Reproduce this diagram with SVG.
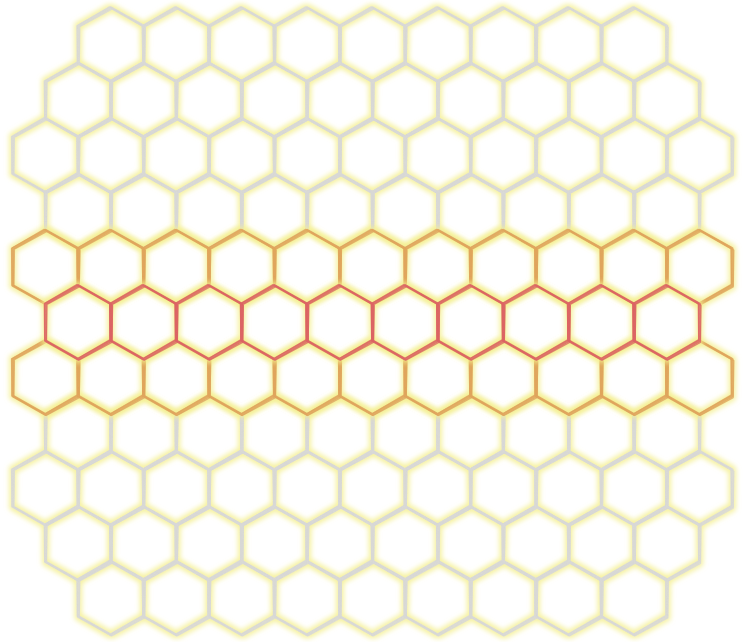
<svg xmlns="http://www.w3.org/2000/svg" xmlns:xlink="http://www.w3.org/1999/xlink" width="743" height="642" viewBox="0 0 743 642">
<style>
.s1{fill:none;stroke-width:2.8;stroke-linejoin:round;stroke-linecap:round;opacity:0.9}
.s2{fill:none;stroke-width:1.4;stroke-linejoin:round;stroke-linecap:round;opacity:0.8}
.gray{stroke:#d8d8d6}
.orange{stroke:#e0a55c}
.red{stroke:#dc6464}
</style>
<defs>
<polygon id="hx" points="0,-36.9 32.7,-18.45 32.7,18.45 0,36.9 -32.7,18.45 -32.7,-18.45"/>
<g id="hs">
<use xlink:href="#hx" class="s1"/>
<use xlink:href="#hx" class="s2" transform="translate(1.3,1.0) rotate(0.9)"/>
<use xlink:href="#hx" class="s2" transform="translate(-1.0,-0.7) rotate(-0.7)"/>
</g>
<filter id="glow" filterUnits="userSpaceOnUse" x="0" y="0" width="743" height="642">
<feMorphology in="SourceAlpha" operator="dilate" radius="2.2" result="d"/>
<feGaussianBlur in="d" stdDeviation="2.8" result="b"/>
<feFlood flood-color="#f4ef8e" flood-opacity="0.85"/>
<feComposite in2="b" operator="in" result="g"/>
<feMerge><feMergeNode in="g"/><feMergeNode in="SourceGraphic"/></feMerge>
</filter>
</defs>
<rect width="743" height="642" fill="#ffffff"/>
<g id="grid-gray" class="gray" filter="url(#glow)">
<g id="row0">
<use xlink:href="#hs" x="110.9" y="44.5"/><use xlink:href="#hs" x="176.3" y="44.5"/><use xlink:href="#hs" x="241.7" y="44.5"/><use xlink:href="#hs" x="307.1" y="44.5"/><use xlink:href="#hs" x="372.5" y="44.5"/><use xlink:href="#hs" x="437.9" y="44.5"/><use xlink:href="#hs" x="503.3" y="44.5"/><use xlink:href="#hs" x="568.7" y="44.5"/><use xlink:href="#hs" x="634.1" y="44.5"/>
</g>
<g id="row1">
<use xlink:href="#hs" x="78.2" y="99.9"/><use xlink:href="#hs" x="143.6" y="99.9"/><use xlink:href="#hs" x="209" y="99.9"/><use xlink:href="#hs" x="274.4" y="99.9"/><use xlink:href="#hs" x="339.8" y="99.9"/><use xlink:href="#hs" x="405.2" y="99.9"/><use xlink:href="#hs" x="470.6" y="99.9"/><use xlink:href="#hs" x="536" y="99.9"/><use xlink:href="#hs" x="601.4" y="99.9"/><use xlink:href="#hs" x="666.8" y="99.9"/>
</g>
<g id="row2">
<use xlink:href="#hs" x="45.5" y="155.3"/><use xlink:href="#hs" x="110.9" y="155.3"/><use xlink:href="#hs" x="176.3" y="155.3"/><use xlink:href="#hs" x="241.7" y="155.3"/><use xlink:href="#hs" x="307.1" y="155.3"/><use xlink:href="#hs" x="372.5" y="155.3"/><use xlink:href="#hs" x="437.9" y="155.3"/><use xlink:href="#hs" x="503.3" y="155.3"/><use xlink:href="#hs" x="568.7" y="155.3"/><use xlink:href="#hs" x="634.1" y="155.3"/><use xlink:href="#hs" x="699.5" y="155.3"/>
</g>
<g id="row3">
<use xlink:href="#hs" x="78.2" y="211.2"/><use xlink:href="#hs" x="143.6" y="211.2"/><use xlink:href="#hs" x="209" y="211.2"/><use xlink:href="#hs" x="274.4" y="211.2"/><use xlink:href="#hs" x="339.8" y="211.2"/><use xlink:href="#hs" x="405.2" y="211.2"/><use xlink:href="#hs" x="470.6" y="211.2"/><use xlink:href="#hs" x="536" y="211.2"/><use xlink:href="#hs" x="601.4" y="211.2"/><use xlink:href="#hs" x="666.8" y="211.2"/>
</g>
<g id="row7">
<use xlink:href="#hs" x="78.2" y="433"/><use xlink:href="#hs" x="143.6" y="433"/><use xlink:href="#hs" x="209" y="433"/><use xlink:href="#hs" x="274.4" y="433"/><use xlink:href="#hs" x="339.8" y="433"/><use xlink:href="#hs" x="405.2" y="433"/><use xlink:href="#hs" x="470.6" y="433"/><use xlink:href="#hs" x="536" y="433"/><use xlink:href="#hs" x="601.4" y="433"/><use xlink:href="#hs" x="666.8" y="433"/>
</g>
<g id="row8">
<use xlink:href="#hs" x="45.5" y="488.2"/><use xlink:href="#hs" x="110.9" y="488.2"/><use xlink:href="#hs" x="176.3" y="488.2"/><use xlink:href="#hs" x="241.7" y="488.2"/><use xlink:href="#hs" x="307.1" y="488.2"/><use xlink:href="#hs" x="372.5" y="488.2"/><use xlink:href="#hs" x="437.9" y="488.2"/><use xlink:href="#hs" x="503.3" y="488.2"/><use xlink:href="#hs" x="568.7" y="488.2"/><use xlink:href="#hs" x="634.1" y="488.2"/><use xlink:href="#hs" x="699.5" y="488.2"/>
</g>
<g id="row9">
<use xlink:href="#hs" x="78.2" y="543.4"/><use xlink:href="#hs" x="143.6" y="543.4"/><use xlink:href="#hs" x="209" y="543.4"/><use xlink:href="#hs" x="274.4" y="543.4"/><use xlink:href="#hs" x="339.8" y="543.4"/><use xlink:href="#hs" x="405.2" y="543.4"/><use xlink:href="#hs" x="470.6" y="543.4"/><use xlink:href="#hs" x="536" y="543.4"/><use xlink:href="#hs" x="601.4" y="543.4"/><use xlink:href="#hs" x="666.8" y="543.4"/>
</g>
<g id="row10">
<use xlink:href="#hs" x="110.9" y="598"/><use xlink:href="#hs" x="176.3" y="598"/><use xlink:href="#hs" x="241.7" y="598"/><use xlink:href="#hs" x="307.1" y="598"/><use xlink:href="#hs" x="372.5" y="598"/><use xlink:href="#hs" x="437.9" y="598"/><use xlink:href="#hs" x="503.3" y="598"/><use xlink:href="#hs" x="568.7" y="598"/><use xlink:href="#hs" x="634.1" y="598"/>
</g>
</g>
<g id="grid-orange" class="orange" filter="url(#glow)">
<g id="row4">
<use xlink:href="#hs" x="45.5" y="267"/><use xlink:href="#hs" x="110.9" y="267"/><use xlink:href="#hs" x="176.3" y="267"/><use xlink:href="#hs" x="241.7" y="267"/><use xlink:href="#hs" x="307.1" y="267"/><use xlink:href="#hs" x="372.5" y="267"/><use xlink:href="#hs" x="437.9" y="267"/><use xlink:href="#hs" x="503.3" y="267"/><use xlink:href="#hs" x="568.7" y="267"/><use xlink:href="#hs" x="634.1" y="267"/><use xlink:href="#hs" x="699.5" y="267"/>
</g>
<g id="row6">
<use xlink:href="#hs" x="45.5" y="377.6"/><use xlink:href="#hs" x="110.9" y="377.6"/><use xlink:href="#hs" x="176.3" y="377.6"/><use xlink:href="#hs" x="241.7" y="377.6"/><use xlink:href="#hs" x="307.1" y="377.6"/><use xlink:href="#hs" x="372.5" y="377.6"/><use xlink:href="#hs" x="437.9" y="377.6"/><use xlink:href="#hs" x="503.3" y="377.6"/><use xlink:href="#hs" x="568.7" y="377.6"/><use xlink:href="#hs" x="634.1" y="377.6"/><use xlink:href="#hs" x="699.5" y="377.6"/>
</g>
</g>
<g id="grid-red" class="red" filter="url(#glow)">
<g id="row5">
<use xlink:href="#hs" x="78.2" y="322.3"/><use xlink:href="#hs" x="143.6" y="322.3"/><use xlink:href="#hs" x="209" y="322.3"/><use xlink:href="#hs" x="274.4" y="322.3"/><use xlink:href="#hs" x="339.8" y="322.3"/><use xlink:href="#hs" x="405.2" y="322.3"/><use xlink:href="#hs" x="470.6" y="322.3"/><use xlink:href="#hs" x="536" y="322.3"/><use xlink:href="#hs" x="601.4" y="322.3"/><use xlink:href="#hs" x="666.8" y="322.3"/>
</g>
</g>
</svg>
